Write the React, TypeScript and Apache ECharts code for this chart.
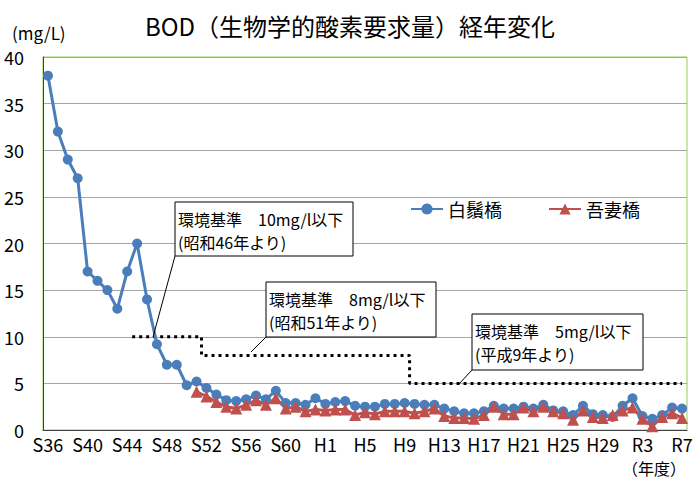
import React, { useEffect, useRef } from 'react';
import * as echarts from 'echarts';

// 年度 (S36 = 1961 ... R7 = 2025)
const years = [
	'S36', 'S37', 'S38', 'S39', 'S40', 'S41', 'S42', 'S43', 'S44', 'S45',
	'S46', 'S47', 'S48', 'S49', 'S50', 'S51', 'S52', 'S53', 'S54', 'S55',
	'S56', 'S57', 'S58', 'S59', 'S60', 'S61', 'S62', 'S63', 'H1', 'H2',
	'H3', 'H4', 'H5', 'H6', 'H7', 'H8', 'H9', 'H10', 'H11', 'H12',
	'H13', 'H14', 'H15', 'H16', 'H17', 'H18', 'H19', 'H20', 'H21', 'H22',
	'H23', 'H24', 'H25', 'H26', 'H27', 'H28', 'H29', 'H30', 'R1', 'R2',
	'R3', 'R4', 'R5', 'R6', 'R7'
];

// 白鬚橋 BOD (mg/L)
const shirahigeValues = [
	38, 32, 29, 27, 17, 16, 15, 13, 17, 20,
	14, 9.2, 7.0, 7.0, 4.8, 5.2, 4.5, 3.8, 3.2, 3.1,
	3.3, 3.7, 3.3, 4.2, 2.9, 2.9, 2.7, 3.4, 2.8, 3.0,
	3.1, 2.6, 2.5, 2.5, 2.8, 2.8, 2.9, 2.8, 2.7, 2.7,
	2.3, 2.0, 1.8, 1.8, 2.0, 2.6, 2.3, 2.3, 2.5, 2.3,
	2.7, 2.1, 2.0, 1.6, 2.6, 1.7, 1.6, 1.4, 2.6, 3.4,
	1.5, 1.2, 1.6, 2.4, 2.3
];

// 吾妻橋 BOD (mg/L), S51 から
const azumaStart = 'S51';
const azumaValues = [
	4.1, 3.6, 3.0, 2.5, 2.3, 2.7, 3.2, 2.7, 3.4, 2.3,
	2.5, 2.0, 2.2, 2.1, 2.2, 2.2, 1.6, 1.9, 1.7, 2.0,
	2.0, 2.0, 1.8, 2.0, 2.3, 1.5, 1.3, 1.3, 1.2, 1.6,
	2.5, 1.7, 1.7, 2.4, 2.0, 2.5, 2.0, 1.8, 1.1, 2.1,
	1.4, 1.3, 1.6, 2.1, 2.4, 1.2, 0.4, 1.4, 1.8, 1.3
];

// 環境基準（点線）
const standardFrom = ['S45', 'S52', 'H10'];
const standardValues = [10, 8, 5];

const FONT = "'Noto Sans CJK JP', 'Noto Sans', sans-serif";

const App: React.FC = () => {
	const chartRef = useRef<HTMLDivElement>(null);

	useEffect(() => {
		if (!chartRef.current) return;
		const chart = echarts.init(chartRef.current, undefined, { renderer: 'svg' });

		const azumaOffset = years.indexOf(azumaStart);
		const azumaData = years.map((_, i) => (i < azumaOffset ? null : azumaValues[i - azumaOffset]));

		const stdStartIdx = standardFrom.map(y => years.indexOf(y));
		const standardData = years.map((_, i) => {
			let v: number | null = null;
			stdStartIdx.forEach((s, k) => {
				if (i >= s) v = standardValues[k];
			});
			return v;
		});

		// 注記ボックス
		const note = (x: number, y: number, w: number, h: number, text: string, lx: number, ly: number, tx: number, ty: number) => [
			{
				type: 'line',
				z: 100,
				shape: { x1: lx, y1: ly, x2: tx, y2: ty },
				style: { stroke: '#000', lineWidth: 1 }
			},
			{
				type: 'rect',
				z: 100,
				shape: { x, y, width: w, height: h },
				style: { fill: '#fff', stroke: '#000', lineWidth: 1 }
			},
			{
				type: 'text',
				z: 101,
				x: x + 3,
				y: y + 5,
				style: { text, fill: '#000', font: `16px ${FONT}`, lineHeight: 23 }
			}
		];

		const option: echarts.EChartsOption = {
			animation: false,
			backgroundColor: '#fff',
			textStyle: { fontFamily: FONT },
			title: {
				text: 'BOD（生物学的酸素要求量）経年変化',
				left: 'center',
				top: 8,
				textStyle: { fontSize: 24, fontWeight: 'normal', color: '#000', fontFamily: FONT }
			},
			legend: {
				data: ['白鬚橋', '吾妻橋'],
				left: 405,
				top: 195,
				itemWidth: 32,
				itemHeight: 14,
				itemGap: 46,
				textStyle: { fontSize: 18, color: '#000', fontFamily: FONT }
			},
			grid: {
				left: 43,
				right: 13,
				top: 57,
				bottom: 56,
				show: true,
				borderColor: '#92D050',
				borderWidth: 1
			},
			xAxis: {
				type: 'category',
				data: years,
				boundaryGap: true,
				axisLine: { lineStyle: { color: '#404040', width: 1 } },
				axisTick: { interval: 0, length: 5, inside: false, lineStyle: { color: '#404040' } },
				axisLabel: { interval: 3, fontSize: 18, color: '#000', margin: 5, fontFamily: FONT },
				splitLine: { show: false }
			},
			yAxis: {
				type: 'value',
				min: 0,
				max: 40,
				interval: 5,
				axisLine: { show: true, lineStyle: { color: '#404040', width: 1 } },
				axisTick: { show: false },
				axisLabel: { fontSize: 18, color: '#000', margin: 19, fontFamily: FONT },
				splitLine: { lineStyle: { color: '#A6A6A6', width: 1 } }
			},
			series: [
				{
					name: '環境基準',
					type: 'line',
					data: standardData,
					step: 'middle',
					symbol: 'none',
					silent: true,
					lineStyle: { color: '#000', width: 3, type: [3, 4] }
				},
				{
					name: '白鬚橋',
					type: 'line',
					data: shirahigeValues,
					symbol: 'circle',
					symbolSize: 10,
					showAllSymbol: true,
					itemStyle: { color: '#4A7EBB' },
					lineStyle: { color: '#4A7EBB', width: 3 }
				},
				{
					name: '吾妻橋',
					type: 'line',
					data: azumaData,
					symbol: 'triangle',
					symbolSize: 12,
					showAllSymbol: true,
					itemStyle: { color: '#C0504D' },
					lineStyle: { color: '#C0504D', width: 3 }
				}
			],
			graphic: [
				{
					type: 'text',
					left: 12,
					top: 24,
					style: { text: '(mg/L)', fill: '#000', font: `17px ${FONT}` }
				},
				{
					type: 'text',
					left: 622,
					top: 460,
					style: { text: '（年度）', fill: '#000', font: `16px ${FONT}` }
				},
				...note(175, 202, 178, 54, '環境基準　10mg/l以下\n(昭和46年より)', 175, 256, 153, 337),
				...note(266, 282, 170, 55, '環境基準　8mg/l以下\n(昭和51年より)', 266, 337, 251, 352),
				...note(472, 314, 171, 56, '環境基準　5mg/l以下\n(平成9年より)', 472, 370, 459, 384)
			] as any
		};

		chart.setOption(option);
		return () => {
			chart.dispose();
		};
	}, []);

	return (
		<div
			ref={chartRef}
			style={{ position: 'fixed', left: 0, top: 0, width: '700px', height: '486px' }}
		/>
	);
};

export default App;
